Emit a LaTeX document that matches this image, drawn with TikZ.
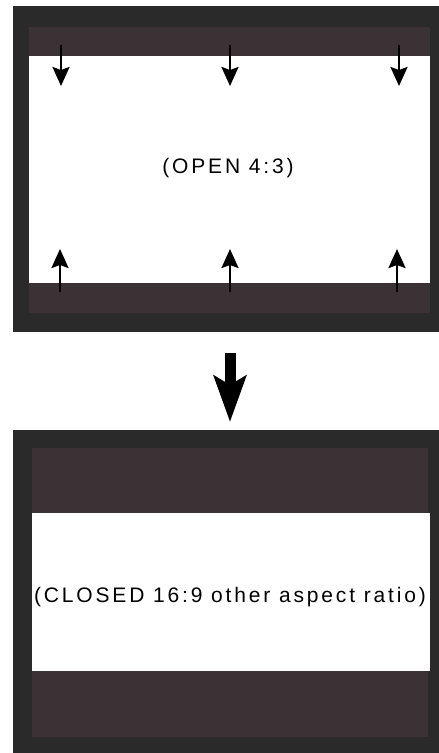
\documentclass[tikz,border=0pt]{standalone}
\usepackage{fontspec}
\setmainfont{Liberation Sans}
\usetikzlibrary{arrows.meta}
\definecolor{cFrame}{HTML}{2A2A2A}
\definecolor{cBand}{HTML}{3A3234}

\begin{document}
\begin{tikzpicture}[
  x=1pt,y=-1pt,
  frm/.style={fill=cFrame,anchor=north west,inner sep=0pt,outer sep=0pt},
  band/.style={fill=cBand,anchor=north west,inner sep=0pt,outer sep=0pt},
  scr/.style={fill=white,anchor=north west,inner sep=0pt,outer sep=0pt},
  lbl/.style={anchor=base,inner sep=0pt,
              font=\fontsize{21}{24}\selectfont\addfontfeature{LetterSpace=13.5}},
  sa/.style={-{Stealth[length=19pt,width=17pt,inset=3pt]},line width=2.5pt},
  ba/.style={-{Stealth[length=46pt,width=32pt,inset=9pt]},line width=11pt},
  ]
  \useasboundingbox (0,0) rectangle (439,753);

  % open 4:3
  \node[frm,minimum width=426pt,minimum height=326pt] (openp) at (13,6) {};
  \node[band,minimum width=401pt,minimum height=29pt] (opentop) at (29,27) {};
  \node[scr,minimum width=401pt,minimum height=227pt] (openscr) at (29,56) {};
  \node[band,minimum width=401pt,minimum height=30pt] (openbot) at (29,283) {};
  \node[lbl] (opentxt) at (228,173) {(OPEN 4:3)};

  \foreach \x [count=\i] in {61,230,399} {
    \coordinate (dn\i) at (\x,45);
    \coordinate (dnh\i) at (\x,86);
    \draw[sa] (dn\i) -- (dnh\i);
  }
  \foreach \x [count=\i] in {60,230,397} {
    \coordinate (up\i) at (\x,292);
    \coordinate (uph\i) at (\x,249);
    \draw[sa] (up\i) -- (uph\i);
  }

  % closed 16:9
  \node[frm,minimum width=426pt,minimum height=323pt] (closedp) at (13,430) {};
  \node[band,minimum width=396pt,minimum height=65pt] (closedtop) at (32,448) {};
  \node[scr,minimum width=398pt,minimum height=158pt] (closedscr) at (32,513) {};
  \node[band,minimum width=396pt,minimum height=66pt] (closedbot) at (32,671) {};
  \node[lbl] (closedtxt) at (230,602) {(CLOSED 16:9 other aspect ratio)};

  \draw[ba,shorten <=21pt,shorten >=8pt]
    ([xshift=4pt]openp.south) -- ([xshift=4pt]closedp.north);
\end{tikzpicture}
\end{document}
